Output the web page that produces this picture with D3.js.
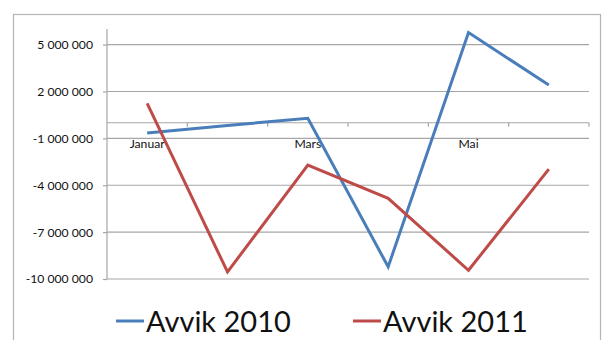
<!DOCTYPE html>
<html>
<head>
<meta charset="utf-8">
<script src="https://cdn.jsdelivr.net/npm/d3@7"></script>
<style>
  body { margin: 0; background: #fff; }
  svg { display: block; font-family: Lato, "Open Sans", sans-serif; }
</style>
</head>
<body>
<svg id="chart" width="603" height="340"></svg>
<script>
// months on the category axis (only every other one is labelled)
const months = ["Januar", "Februar", "Mars", "April", "Mai", "Juni"];
const shownLabels = ["Januar", "Mars", "Mai"];

// deviation values
const avvik2010 = [-650000, -170000, 280000, -9220000, 5770000, 2410000];
const avvik2011 = [1240000, -9550000, -2710000, -4840000, -9440000, -2970000];

const yTicks = [-10000000, -7000000, -4000000, -1000000, 2000000, 5000000];

const series = [
    { name: "Avvik 2010", values: avvik2010, color: "#4a7ebb" },
    { name: "Avvik 2011", values: avvik2011, color: "#be4b48" }
];

const svg = d3.select("#chart");

const plot = { left: 107, right: 589, top: 29, bottom: 279 };

// outer chart frame
svg.append("rect")
    .attr("x", 13.5).attr("y", 14.5)
    .attr("width", 587).attr("height", 340)
    .attr("fill", "none")
    .attr("stroke", "#b4b4b4")
    .attr("stroke-width", 1.2);

const x = d3.scaleBand().domain(months).range([plot.left, plot.right]);
const y = d3.scaleLinear().domain([-10000000, 6000000]).range([plot.bottom, plot.top]);

const nb = d3.formatLocale({ decimal: ",", thousands: " ", grouping: [3], currency: ["", ""], minus: "-" });
const fmt = nb.format(",");

// horizontal gridlines
svg.append("g")
    .selectAll("line")
    .data(yTicks)
    .join("line")
    .attr("x1", plot.left).attr("x2", plot.right)
    .attr("y1", d => y(d)).attr("y2", d => y(d))
    .attr("stroke", "#a6a6a6")
    .attr("stroke-width", 1.2);

// y axis
const yAxis = svg.append("g")
    .attr("transform", `translate(${plot.left},0)`)
    .call(d3.axisLeft(y).tickValues(yTicks).tickFormat(fmt).tickSize(4).tickPadding(10));
yAxis.select(".domain")
    .attr("d", `M0,${y(6000000)}V${y(-10000000)}`)
    .attr("stroke", "#a6a6a6").attr("stroke-width", 1.2);
yAxis.selectAll(".tick line").attr("stroke", "#a6a6a6").attr("stroke-width", 1.2);
yAxis.selectAll(".tick text")
    .attr("fill", "#111")
    .style("font-size", "12.2px")
    .style("font-family", "Lato, sans-serif");

// category axis at zero
const bounds = months.map(m => x(m) + x.bandwidth());
const xAxis = svg.append("g");
xAxis.append("line")
    .attr("x1", plot.left).attr("x2", plot.right)
    .attr("y1", y(0)).attr("y2", y(0))
    .attr("stroke", "#a6a6a6").attr("stroke-width", 1.2);
xAxis.selectAll("line.tick")
    .data(bounds)
    .join("line")
    .attr("class", "tick")
    .attr("x1", d => d).attr("x2", d => d)
    .attr("y1", y(0)).attr("y2", y(0) + 4)
    .attr("stroke", "#a6a6a6").attr("stroke-width", 1.2);
xAxis.selectAll("text")
    .data(shownLabels)
    .join("text")
    .attr("x", d => x(d) + x.bandwidth() / 2)
    .attr("y", y(0) + 25.5)
    .attr("text-anchor", "middle")
    .attr("fill", "#111")
    .style("font-size", "12.2px")
    .text(d => d);

// lines
const line = d3.line()
    .x((d, i) => x(months[i]) + x.bandwidth() / 2)
    .y(d => y(d));

series.forEach(s => {
    svg.append("path")
        .datum(s.values)
        .attr("fill", "none")
        .attr("stroke", s.color)
        .attr("stroke-width", 3)
        .attr("stroke-linejoin", "miter")
        .attr("d", line);
});

// legend
const legendPos = [116, 353];
series.forEach((s, i) => {
    const g = svg.append("g").attr("transform", `translate(${legendPos[i]},0)`);
    g.append("line")
        .attr("x1", 0).attr("x2", 28)
        .attr("y1", 321).attr("y2", 321)
        .attr("stroke", s.color).attr("stroke-width", 3);
    g.append("text")
        .attr("x", 30).attr("y", 332)
        .attr("fill", "#111")
        .style("font-size", "29px")
        .text(s.name);
});
</script>
</body>
</html>
